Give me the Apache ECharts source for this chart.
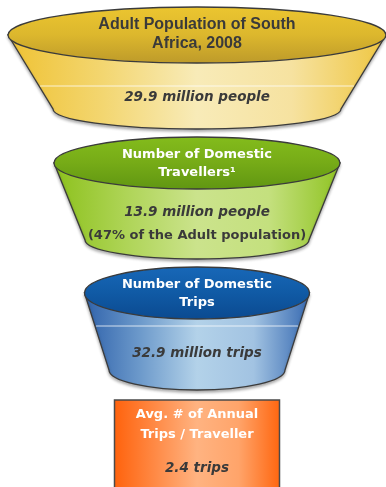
<!DOCTYPE html>
<html>
<head>
<meta charset="utf-8">
<script src="https://cdn.jsdelivr.net/npm/echarts@6/dist/echarts.min.js"></script>
<style>
  html, body { margin: 0; padding: 0; background: #ffffff; }
  #chart { width: 386px; height: 487px; }
</style>
</head>
<body>
<div id="chart"></div>
<script>
// Funnel stages, top to bottom
const stages = ['Adult Population', 'Domestic Travellers', 'Domestic Trips', 'Trips per Traveller'];
const titleLines = [
  ['Adult Population of South', 'Africa, 2008'],
  ['Number of Domestic', 'Travellers\u00B9'],
  ['Number of Domestic', 'Trips'],
  ['Avg. # of Annual', 'Trips / Traveller']
];
const values = [29.9, 13.9, 32.9, 2.4];
const units = ['million people', 'million people', 'million trips', 'trips'];
const notes = ['', '(47% of the Adult population)', '', ''];

// Shape geometry and colours per stage (offsets from the row centre)
const shapes = [
  {
    kind: 'funnel',
    top: { dy: -33.5, rx: 189, ry: 28 },
    bot: { dy: 40.5, rx: 144, ry: 20 },
    hl: 17.5,
    body: ['#efc233', '#f3d670', '#f8ebb8', '#f6e2a0', '#efc640'],
    cap: ['#ecc630', '#dcb72d', '#bd9a2a'],
    titleFont: 'bold 16px "Liberation Sans", Arial, sans-serif',
    titleColor: '#3a3a3a',
    titleDy: [-44, -25],
    valueDy: 28.5
  },
  {
    kind: 'funnel',
    top: { dy: -35.5, rx: 143, ry: 26 },
    bot: { dy: 41.5, rx: 112, ry: 19 },
    hl: null,
    body: ['#8cc11c', '#aed456', '#cbe38c', '#c4e07e', '#8fc322'],
    cap: ['#84bc1c', '#76ab17', '#609612'],
    titleFont: 'bold 13px "DejaVu Sans", sans-serif',
    titleColor: '#ffffff',
    titleDy: [-43.5, -25.5],
    valueDy: 13.5,
    noteDy: 37.5
  },
  {
    kind: 'funnel',
    top: { dy: -35.5, rx: 112.5, ry: 26 },
    bot: { dy: 41.5, rx: 88, ry: 20 },
    hl: -2.5,
    body: ['#2f62ab', '#6d9acb', '#b3d2e9', '#a2c3e2', '#3669b1'],
    cap: ['#1868b8', '#105aa5', '#0b4a90'],
    titleFont: 'bold 13px "DejaVu Sans", sans-serif',
    titleColor: '#ffffff',
    titleDy: [-43.5, -25.5],
    valueDy: 24.5
  },
  {
    kind: 'box',
    w: 165, h: 110, dy: -58.5,
    body: ['#ff620c', '#ff8a46', '#ffb381', '#ffa46a', '#ff660f'],
    titleFont: 'bold 13px "DejaVu Sans", sans-serif',
    titleColor: '#ffffff',
    titleDy: [-43.5, -23.5],
    valueDy: 9.5
  }
];

const valueFont = 'italic bold 13.5px "DejaVu Sans", sans-serif';
const noteFont = 'bold 13px "DejaVu Sans", sans-serif';
const darkText = '#3a3a3a';
const outline = '#3b3b3b';

function hGradient(stops) {
  const n = stops.length - 1;
  return new echarts.graphic.LinearGradient(0, 0, 1, 0,
    stops.map((c, k) => ({ offset: k / n, color: c })));
}
function vGradient(stops) {
  const n = stops.length - 1;
  return new echarts.graphic.LinearGradient(0, 0, 0, 1,
    stops.map((c, k) => ({ offset: k / n, color: c })));
}

function textEl(str, x, y, font, color) {
  return {
    type: 'text',
    style: { text: str, x: x, y: y, font: font, fill: color, align: 'center', verticalAlign: 'middle' }
  };
}

function renderItem(params, api) {
  const idx = api.value(1);
  const pos = api.coord([0, idx]);
  const cx = pos[0], cy = pos[1];
  const s = shapes[idx];
  const children = [];

  if (s.kind === 'funnel') {
    const tY = cy + s.top.dy, bY = cy + s.bot.dy;
    const path = 'M ' + (cx - s.top.rx) + ' ' + tY +
      ' L ' + (cx - s.bot.rx) + ' ' + bY +
      ' A ' + s.bot.rx + ' ' + s.bot.ry + ' 0 0 0 ' + (cx + s.bot.rx) + ' ' + bY +
      ' L ' + (cx + s.top.rx) + ' ' + tY + ' Z';
    children.push({
      type: 'path',
      shape: { pathData: path },
      style: {
        fill: hGradient(s.body), stroke: outline, lineWidth: 1.3,
        shadowBlur: 3, shadowOffsetY: 2, shadowColor: 'rgba(0,0,0,0.3)'
      }
    });
    if (s.hl !== null) {
      const y = cy + s.hl;
      const t = (y - tY) / (bY - tY);
      const half = s.top.rx + (s.bot.rx - s.top.rx) * t;
      children.push({
        type: 'line',
        shape: { x1: cx - half + 1, y1: y, x2: cx + half - 1, y2: y },
        style: { stroke: 'rgba(255,255,255,0.75)', lineWidth: 1 }
      });
    }
    children.push({
      type: 'ellipse',
      shape: { cx: cx, cy: tY, rx: s.top.rx, ry: s.top.ry },
      style: { fill: vGradient(s.cap), stroke: outline, lineWidth: 1.3 }
    });
  } else {
    children.push({
      type: 'rect',
      shape: { x: cx - s.w / 2, y: cy + s.dy, width: s.w, height: s.h },
      style: { fill: hGradient(s.body), stroke: '#4a4a4a', lineWidth: 1.5 }
    });
  }

  titleLines[idx].forEach((line, k) => {
    children.push(textEl(line, cx, cy + s.titleDy[k], s.titleFont, s.titleColor));
  });
  children.push(textEl(values[idx] + ' ' + units[idx], cx, cy + s.valueDy, valueFont, darkText));
  if (notes[idx]) {
    children.push(textEl(notes[idx], cx, cy + s.noteDy, noteFont, darkText));
  }
  return { type: 'group', children: children };
}

const chart = echarts.init(document.getElementById('chart'), null, { renderer: 'canvas' });
chart.setOption({
  animation: false,
  backgroundColor: '#ffffff',
  grid: { left: 8, right: 0, top: 3.5, height: 520, outerBoundsMode: 'none', containLabel: false },
  xAxis: { type: 'value', min: -1, max: 1, show: false },
  yAxis: { type: 'category', data: stages, inverse: true, show: false },
  series: [{
    type: 'custom',
    renderItem: renderItem,
    clip: false,
    data: stages.map((name, i) => [0, i])
  }]
});
</script>
</body>
</html>
